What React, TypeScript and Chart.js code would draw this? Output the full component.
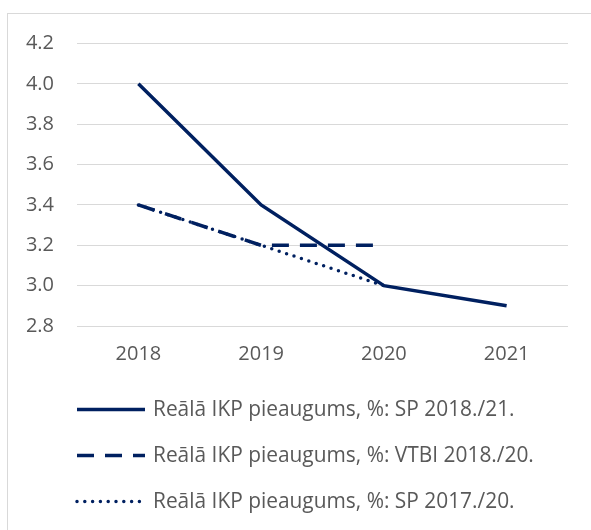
import React, { useEffect, useRef } from "react";
import { Chart, registerables } from "chart.js";

Chart.register(...registerables);

const categories = ["2018", "2019", "2020", "2021"];
const sp2018_21 = [4.0, 3.4, 3.0, 2.9];
const vtbi2018_20 = [3.4, 3.2, 3.2, null];
const sp2017_20 = [3.4, 3.2, 3.0, null];
const seriesLabels = [
  "Reālā IKP pieaugums, %: SP 2018./21.",
  "Reālā IKP pieaugums, %: VTBI 2018./20.",
  "Reālā IKP pieaugums, %: SP 2017./20.",
];
const yMin = 2.8;
const yMax = 4.2;
const yStep = 0.2;

const NAVY = "#002060";
const TEXT = "#595959";
const GRID = "#d9d9d9";
const FONT = "'Open Sans', sans-serif";

const rowLegend = {
  id: "rowLegend",
  afterDraw(chart: any) {
    const ctx = chart.ctx as CanvasRenderingContext2D;
    const left = chart.chartArea.left;
    const base = chart.chartArea.bottom;
    ctx.save();
    ctx.font = `20px ${FONT}`;
    const w20 = ctx.measureText(seriesLabels[0]).width;
    const size = Math.min(22, Math.max(16, (20 * 361) / w20));
    ctx.restore();
    chart.data.datasets.forEach((ds: any, i: number) => {
      const y = base + 83.5 + i * 46;
      ctx.save();
      ctx.strokeStyle = ds.borderColor;
      ctx.lineWidth = ds.borderWidth;
      ctx.lineCap = ds.borderCapStyle || "butt";
      ctx.setLineDash(ds.borderDash || []);
      ctx.beginPath();
      ctx.moveTo(left, y);
      ctx.lineTo(left + 68, y);
      ctx.stroke();
      ctx.setLineDash([]);
      ctx.fillStyle = TEXT;
      ctx.font = `${size.toFixed(1)}px ${FONT}`;
      ctx.textBaseline = "middle";
      ctx.textAlign = "left";
      ctx.fillText(ds.label, left + 76, y + 1);
      ctx.restore();
    });
  },
};

export default function App() {
  const ref = useRef<HTMLCanvasElement | null>(null);
  useEffect(() => {
    document.body.style.overflow = "hidden";
    const chart = new Chart(ref.current as HTMLCanvasElement, {
      type: "line",
      data: {
        labels: categories,
        datasets: [
          {
            label: seriesLabels[0],
            data: sp2018_21,
            borderColor: NAVY,
            backgroundColor: NAVY,
            borderWidth: 3.5,
            pointRadius: 0,
            fill: false,
            tension: 0,
          },
          {
            label: seriesLabels[1],
            data: vtbi2018_20,
            borderColor: NAVY,
            backgroundColor: NAVY,
            borderWidth: 3.5,
            borderDash: [17, 11],
            pointRadius: 0,
            fill: false,
            tension: 0,
          },
          {
            label: seriesLabels[2],
            data: sp2017_20,
            borderColor: NAVY,
            backgroundColor: NAVY,
            borderWidth: 3.5,
            borderDash: [0, 7.8],
            borderCapStyle: "round",
            pointRadius: 0,
            fill: false,
            tension: 0,
          },
        ],
      },
      options: {
        animation: false,
        responsive: false,
        events: [],
        layout: { padding: { left: 0, right: 23, top: 29.5, bottom: 144 } },
        plugins: {
          legend: { display: false },
          tooltip: { enabled: false },
          title: { display: false },
        },
        scales: {
          x: {
            offset: true,
            grid: { display: false, drawTicks: false },
            border: { display: false },
            ticks: {
              color: TEXT,
              font: { family: FONT, size: 20 },
              padding: 16,
              maxRotation: 0,
            },
            afterFit: (s: any) => {
              s.height = 60;
            },
          },
          y: {
            min: yMin,
            max: yMax,
            grid: {
              color: GRID,
              lineWidth: 1,
              drawTicks: true,
              tickLength: 23,
              tickColor: "rgba(0,0,0,0)",
            },
            border: { display: false },
            ticks: {
              stepSize: yStep,
              color: TEXT,
              font: { family: FONT, size: 20 },
              padding: 0,
              callback: (v: any) => Number(v).toFixed(1),
            },
            afterFit: (s: any) => {
              s.width = 69;
            },
          },
        },
      },
      plugins: [rowLegend],
    });
    return () => chart.destroy();
  }, []);
  return (
    <div
      style={{
        position: "absolute",
        left: 7,
        top: 13,
        width: 620,
        height: 530,
        border: `1px solid ${GRID}`,
        boxSizing: "border-box",
      }}
    >
      <canvas ref={ref} width={583} height={516} style={{ display: "block" }} />
    </div>
  );
}
